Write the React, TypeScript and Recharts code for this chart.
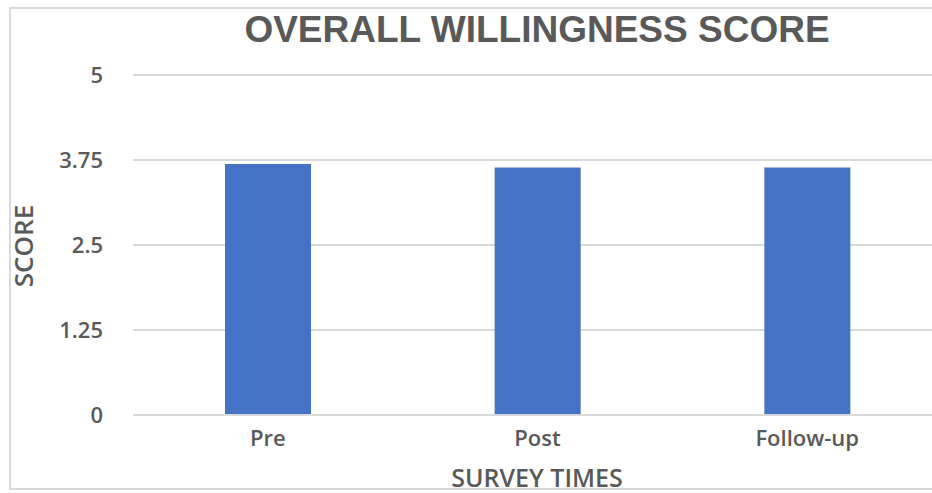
import { BarChart, Bar, XAxis, YAxis, CartesianGrid } from "recharts";

// Mean willingness score at each survey time
const surveyTimes = ["Pre", "Post", "Follow-up"];
const scores = [3.69, 3.64, 3.64];
const scoreTicks = [0, 1.25, 2.5, 3.75, 5];

const data = surveyTimes.map((time, i) => ({ time, score: scores[i] }));

const GRAY_TEXT = "#595959";
const GRID = "#d9d9d9";
const BAR_BLUE = "#4472C4";
const LABEL_FONT = "'Open Sans', 'Noto Sans', sans-serif";

export default function App() {
  return (
    <div
      style={{
        position: "absolute",
        left: 0,
        top: 0,
        width: 932,
        height: 493,
        overflow: "hidden",
        background: "#ffffff",
      }}
    >
      {/* chart frame: right edge runs off the page */}
      <div
        style={{
          position: "absolute",
          left: 9,
          top: 7,
          width: 960,
          height: 483,
          border: `2px solid ${GRID}`,
          boxSizing: "border-box",
        }}
      />
      <div style={{ position: "absolute", left: 0, top: 0 }}>
        <BarChart
          width={950}
          height={493}
          data={data}
          margin={{ top: 75, right: 8, bottom: 0, left: 8 }}
        >
          <CartesianGrid vertical={false} stroke={GRID} strokeWidth={2} />
          <XAxis
            dataKey="time"
            height={78}
            axisLine={{ stroke: GRID, strokeWidth: 2 }}
            tickLine={false}
            tickSize={0}
            tickMargin={15}
            tick={{ fontSize: 22, fontWeight: 600, fill: GRAY_TEXT, fontFamily: LABEL_FONT }}
          />
          <YAxis
            width={125}
            domain={[0, 5]}
            ticks={scoreTicks}
            axisLine={false}
            tickLine={false}
            tickSize={0}
            tickMargin={30}
            tick={{ fontSize: 22, fontWeight: 600, fill: GRAY_TEXT, fontFamily: LABEL_FONT }}
          />
          <Bar dataKey="score" fill={BAR_BLUE} barSize={86} isAnimationActive={false} />
        </BarChart>
      </div>
      {/* chart and axis titles */}
      <svg
        width={932}
        height={493}
        style={{ position: "absolute", left: 0, top: 0, pointerEvents: "none" }}
      >
        <text
          x={537}
          y={42}
          textAnchor="middle"
          fill={GRAY_TEXT}
          fontFamily="'Liberation Sans', Arial, sans-serif"
          fontWeight="bold"
          fontSize={37}
        >
          OVERALL WILLINGNESS SCORE
        </text>
        <text
          x={33}
          y={246}
          transform="rotate(-90 33 246)"
          textAnchor="middle"
          fill={GRAY_TEXT}
          fontFamily={LABEL_FONT}
          fontWeight={600}
          fontSize={26}
        >
          SCORE
        </text>
        <text
          x={537}
          y={487}
          textAnchor="middle"
          fill={GRAY_TEXT}
          fontFamily={LABEL_FONT}
          fontWeight={600}
          fontSize={25}
        >
          SURVEY TIMES
        </text>
      </svg>
    </div>
  );
}
